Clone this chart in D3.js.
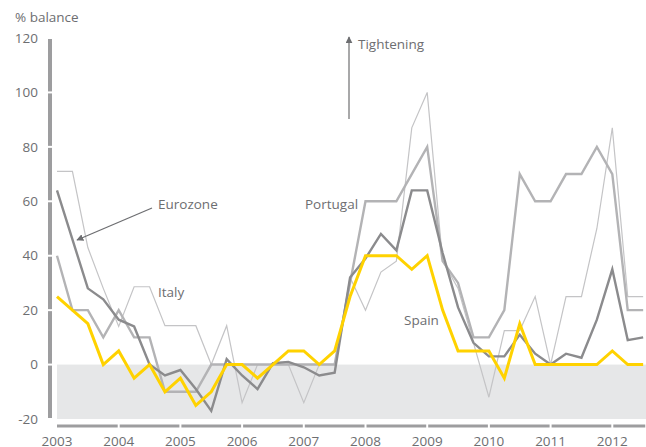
<!DOCTYPE html>
<html>
<head>
<meta charset="utf-8">
<script src="https://cdn.jsdelivr.net/npm/d3@7"></script>
<style>
  body { margin: 0; background: #fff; }
  svg text { font-family: "Open Sans", "Noto Sans", sans-serif; fill: #6d6e71; }
</style>
</head>
<body>
<div id="chart"></div>
<script>
// quarterly values, 2003 Q1 .. 2012 Q3
const startYear = 2003
const years = [2003, 2004, 2005, 2006, 2007, 2008, 2009, 2010, 2011, 2012]
const yTicks = [-20, 0, 20, 40, 60, 80, 100, 120]

const italy = [71, 71, 43, 28, 14, 28.6, 28.6, 14.3, 14.3, 14.3, 0, 14.3, -14, 0, 0, 0,
  -14, 0, 0, 32, 20, 34, 38, 87, 100, 38, 28, 8, -12, 12.5, 12.5, 25, 0, 25, 25, 50, 87, 25, 25]
const portugal = [40, 20, 20, 10, 20, 10, 10, -10, -10, -10, 0, 0, 0, 0, 0, 0,
  0, 0, 0, 30, 60, 60, 60, 70, 80, 38, 30, 10, 10, 20, 70, 60, 60, 70, 70, 80, 70, 20, 20]
const eurozone = [64, 46, 28, 24, 16.5, 14, 0, -4, -2, -9, -17, 2, -4, -9, 0.5, 1,
  -1, -4, -3, 32, 39, 48, 42, 64, 64, 41, 21, 8, 3, 3, 11, 4, 0, 4, 2.5, 16.5, 35, 9, 10]
const spain = [25, 20, 15, 0, 5, -5, 0, -10, -5, -15, -10, 0, 0, -5, 0, 5,
  5, 0, 5, 25, 40, 40, 40, 35, 40, 20, 5, 5, 5, -5, 15, 0, 0, 0, 0, 0, 5, 0, 0]

const width = 646, height = 447

const svg = d3.select('#chart')
  .append('svg')
  .attr('width', width)
  .attr('height', height)

const x = d3.scaleLinear().domain([2003, 2013]).range([57, 674])
const y = d3.scaleLinear().domain([-20, 120]).range([419, 38])

// negative zone
svg.append('rect')
  .attr('x', x(2003))
  .attr('y', y(0))
  .attr('width', width - x(2003))
  .attr('height', y(-20) - y(0))
  .attr('fill', '#e6e7e8')

// y axis: thick segments broken at ticks
const yStep = yTicks.slice(1).map((t, i) => [yTicks[i], t])
svg.selectAll('.yseg')
  .data(yStep)
  .enter()
  .append('line')
  .attr('x1', 50).attr('x2', 50)
  .attr('y1', d => y(d[0]) - 1)
  .attr('y2', d => y(d[1]) + 1)
  .attr('stroke', '#9d9d9f')
  .attr('stroke-width', 4)

svg.selectAll('.ylab')
  .data(yTicks)
  .enter()
  .append('text')
  .attr('x', 38)
  .attr('y', d => y(d))
  .attr('dy', '0.35em')
  .attr('text-anchor', 'end')
  .style('font-size', '13.5px')
  .text(d => d)

svg.append('text')
  .attr('x', 15).attr('y', 22)
  .style('font-size', '13.5px')
  .text('% balance')

// x axis: segments broken at years
const xSegs = years.map((yr, i) => [yr, i < years.length - 1 ? years[i + 1] : 2012.55])
svg.selectAll('.xseg')
  .data(xSegs)
  .enter()
  .append('line')
  .attr('x1', d => x(d[0]) + (d[0] === 2003 ? 0 : 1))
  .attr('x2', d => Math.min(x(d[1]) - 1, width))
  .attr('y1', 426).attr('y2', 426)
  .attr('stroke', '#9d9d9f')
  .attr('stroke-width', 3)

svg.selectAll('.xlab')
  .data(years)
  .enter()
  .append('text')
  .attr('x', d => x(d))
  .attr('y', 446)
  .attr('text-anchor', 'middle')
  .style('font-size', '13.5px')
  .text(d => d)

// lines
const line = d3.line()
  .x((d, i) => x(startYear + i / 4))
  .y(d => y(d))

const series = [
  { name: 'Italy', values: italy, color: '#c4c4c6', w: 1.2 },
  { name: 'Portugal', values: portugal, color: '#b3b3b5', w: 2.4 },
  { name: 'Eurozone', values: eurozone, color: '#8b8b8d', w: 2.4 },
  { name: 'Spain', values: spain, color: '#ffd200', w: 3 },
]

svg.selectAll('.series')
  .data(series)
  .enter()
  .append('path')
  .attr('d', d => line(d.values))
  .attr('fill', 'none')
  .attr('stroke', d => d.color)
  .attr('stroke-width', d => d.w)
  .attr('stroke-linejoin', 'miter')

// annotations
const defs = svg.append('defs')
defs.append('marker')
  .attr('id', 'arr')
  .attr('viewBox', '0 0 10 10')
  .attr('refX', 9).attr('refY', 5)
  .attr('markerWidth', 7).attr('markerHeight', 7)
  .attr('markerUnits', 'userSpaceOnUse')
  .attr('orient', 'auto')
  .append('path')
  .attr('d', 'M0,0 L10,5 L0,10 Z')
  .attr('fill', '#6d6e71')

svg.append('line')
  .attr('x1', 152).attr('y1', 208)
  .attr('x2', 77).attr('y2', 240)
  .attr('stroke', '#6d6e71')
  .attr('stroke-width', 1.2)
  .attr('marker-end', 'url(#arr)')

svg.append('line')
  .attr('x1', 349).attr('y1', 119)
  .attr('x2', 349).attr('y2', 37)
  .attr('stroke', '#8b8b8d')
  .attr('stroke-width', 1.5)
  .attr('marker-end', 'url(#arr)')

const labels = [
  { t: 'Eurozone', x: 158, y: 209 },
  { t: 'Italy', x: 158, y: 297 },
  { t: 'Portugal', x: 305, y: 209 },
  { t: 'Spain', x: 404, y: 325 },
  { t: 'Tightening', x: 358, y: 49 },
]
svg.selectAll('.ann')
  .data(labels)
  .enter()
  .append('text')
  .attr('x', d => d.x)
  .attr('y', d => d.y)
  .style('font-size', '13.5px')
  .text(d => d.t)
</script>
</body>
</html>
